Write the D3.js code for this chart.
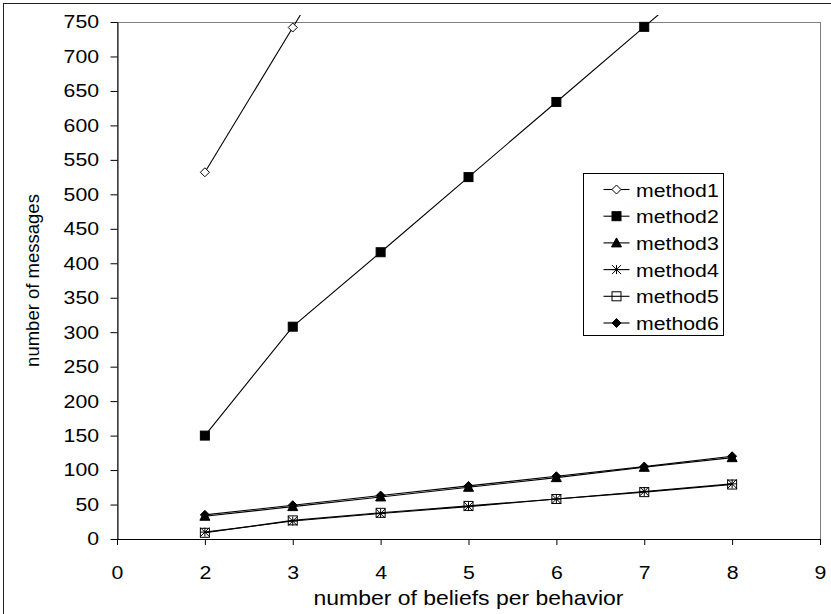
<!DOCTYPE html>
<html>
<head>
<meta charset="utf-8">
<script src="https://cdn.jsdelivr.net/npm/d3@7"></script>
<style>
  body { margin: 0; background: #fff; }
  svg { display: block; font-family: "Liberation Sans", Arial, sans-serif; }
</style>
</head>
<body>
<svg id="chart" width="831" height="614"></svg>
<script>
// category labels on the x axis (the "1" is absent in the original)
const xCats = ['0', '2', '3', '4', '5', '6', '7', '8', '9'];
const beliefs = ['2', '3', '4', '5', '6', '7', '8'];
const yTicks = d3.range(0, 751, 50);

const seriesNames = ['method1', 'method2', 'method3', 'method4', 'method5', 'method6'];
// values past 750 are only there so the clipped line leaves the plot
const method1 = [532, 742, 952];
const method2 = [150, 308, 416, 525, 634, 743, 852];
const method3 = [33, 47, 61, 75, 89, 104, 118];
const method4 = [10, 26, 37, 47, 58, 69, 80];
const method5 = [9, 27, 38, 48, 58, 68, 79];
const method6 = [35, 49, 63, 77, 91, 105, 120];
const markers = ['diamondOpen', 'square', 'triangle', 'asterisk', 'squareOpen', 'diamond'];

const series = [method1, method2, method3, method4, method5, method6].map((vals, i) => ({
  name: seriesNames[i],
  marker: markers[i],
  points: vals.map((v, j) => ({ x: beliefs[j], y: v }))
}));

const margin = { top: 22, right: 11, bottom: 75, left: 117 };
const svgW = 831, svgH = 614;
const width = svgW - margin.left - margin.right;
const height = svgH - margin.top - margin.bottom;
const textStretch = 1.15;

const svg = d3.select('#chart');

// outer chart frame (only its top and left edges are in view)
svg.append('rect')
  .attr('x', 3.5).attr('y', 3.5)
  .attr('width', 1000).attr('height', 1000)
  .attr('fill', 'none').attr('stroke', '#222');

const g = svg.append('g').attr('transform', `translate(${margin.left},${margin.top})`);

const x = d3.scalePoint().domain(xCats).range([0, width]).padding(0);
const y = d3.scaleLinear().domain([0, 750]).range([height, 0]);

// plot area border
g.append('rect')
  .attr('x', 0.5).attr('y', 0.5)
  .attr('width', width).attr('height', height)
  .attr('fill', 'none').attr('stroke', '#808080');

g.append('defs').append('clipPath').attr('id', 'clip')
  .append('rect').attr('x', -2).attr('y', -7).attr('width', width + 4).attr('height', height + 9);

// axes
const yAxis = g.append('g')
  .call(d3.axisLeft(y).tickValues(yTicks).tickSize(7).tickPadding(9).tickSizeOuter(0));
const xAxis = g.append('g')
  .attr('transform', `translate(0,${height})`)
  .call(d3.axisBottom(x).tickSize(6).tickPadding(21).tickSizeOuter(0));

[xAxis, yAxis].forEach((ax) => {
  ax.select('.domain').attr('stroke', '#000');
  ax.selectAll('.tick line').attr('stroke', '#000');
  ax.selectAll('.tick text')
    .attr('fill', '#000')
    .style('font-size', '18.5px')
    .attr('transform', `scale(${textStretch},1)`);
});
yAxis.attr('transform', 'translate(0.5,0)');

// axis titles
g.append('g')
  .attr('transform', `translate(${width / 2},${height + 66})`)
  .append('text')
  .attr('text-anchor', 'middle')
  .attr('transform', 'scale(1.12,1)')
  .style('font-size', '20.5px')
  .text('number of beliefs per behavior');

svg.append('text')
  .attr('transform', `translate(38.5,${margin.top + height / 2}) rotate(-90)`)
  .attr('text-anchor', 'middle')
  .style('font-size', '18.5px')
  .text('number of messages');

// marker shapes, drawn around (0,0)
function drawMarker(sel, type) {
  const r = 4.5;
  if (type === 'square' || type === 'squareOpen') {
    sel.append('rect')
      .attr('x', -r).attr('y', -r).attr('width', 2 * r).attr('height', 2 * r)
      .attr('fill', type === 'square' ? '#000' : 'none')
      .attr('stroke', '#000').attr('stroke-width', 1);
  } else if (type === 'diamond' || type === 'diamondOpen') {
    sel.append('path')
      .attr('d', `M0,${-r}L${r},0L0,${r}L${-r},0Z`)
      .attr('fill', type === 'diamond' ? '#000' : '#fff')
      .attr('stroke', '#000').attr('stroke-width', 1);
  } else if (type === 'triangle') {
    sel.append('path')
      .attr('d', 'M0,-5L5,4L-5,4Z')
      .attr('fill', '#000').attr('stroke', '#000');
  } else if (type === 'asterisk') {
    sel.append('path')
      .attr('d', `M${-r},0H${r}M0,${-r}V${r}M${-r},${-r}L${r},${r}M${-r},${r}L${r},${-r}`)
      .attr('fill', 'none').attr('stroke', '#000').attr('stroke-width', 1);
  }
}

const plot = g.append('g').attr('clip-path', 'url(#clip)');

const line = d3.line()
  .x((d) => x(d.x))
  .y((d) => y(d.y));

plot.selectAll('path.series')
  .data(series)
  .join('path')
  .attr('class', 'series')
  .attr('fill', 'none')
  .attr('stroke', '#000')
  .attr('stroke-width', 1.1)
  .attr('d', (d) => line(d.points));

series.forEach((s) => {
  plot.append('g').selectAll('g')
    .data(s.points.filter((p) => p.y <= 750))
    .join('g')
    .attr('transform', (p) => `translate(${x(p.x)},${y(p.y)})`)
    .each(function () { drawMarker(d3.select(this), s.marker); });
});

// legend
const legend = svg.append('g').attr('transform', 'translate(583.5,173.5)');
legend.append('rect')
  .attr('width', 140).attr('height', 162)
  .attr('fill', '#fff').attr('stroke', '#000');

series.forEach((s, i) => {
  const row = legend.append('g').attr('transform', `translate(0,${16 + i * 26.7})`);
  row.append('line')
    .attr('x1', 20).attr('x2', 46)
    .attr('stroke', '#000').attr('stroke-width', 1.1);
  drawMarker(row.append('g').attr('transform', 'translate(33,0)'), s.marker);
  row.append('g').attr('transform', 'translate(52.5,7)')
    .append('text')
    .attr('transform', `scale(${textStretch},1)`)
    .style('font-size', '18.5px')
    .text(s.name);
});
</script>
</body>
</html>
